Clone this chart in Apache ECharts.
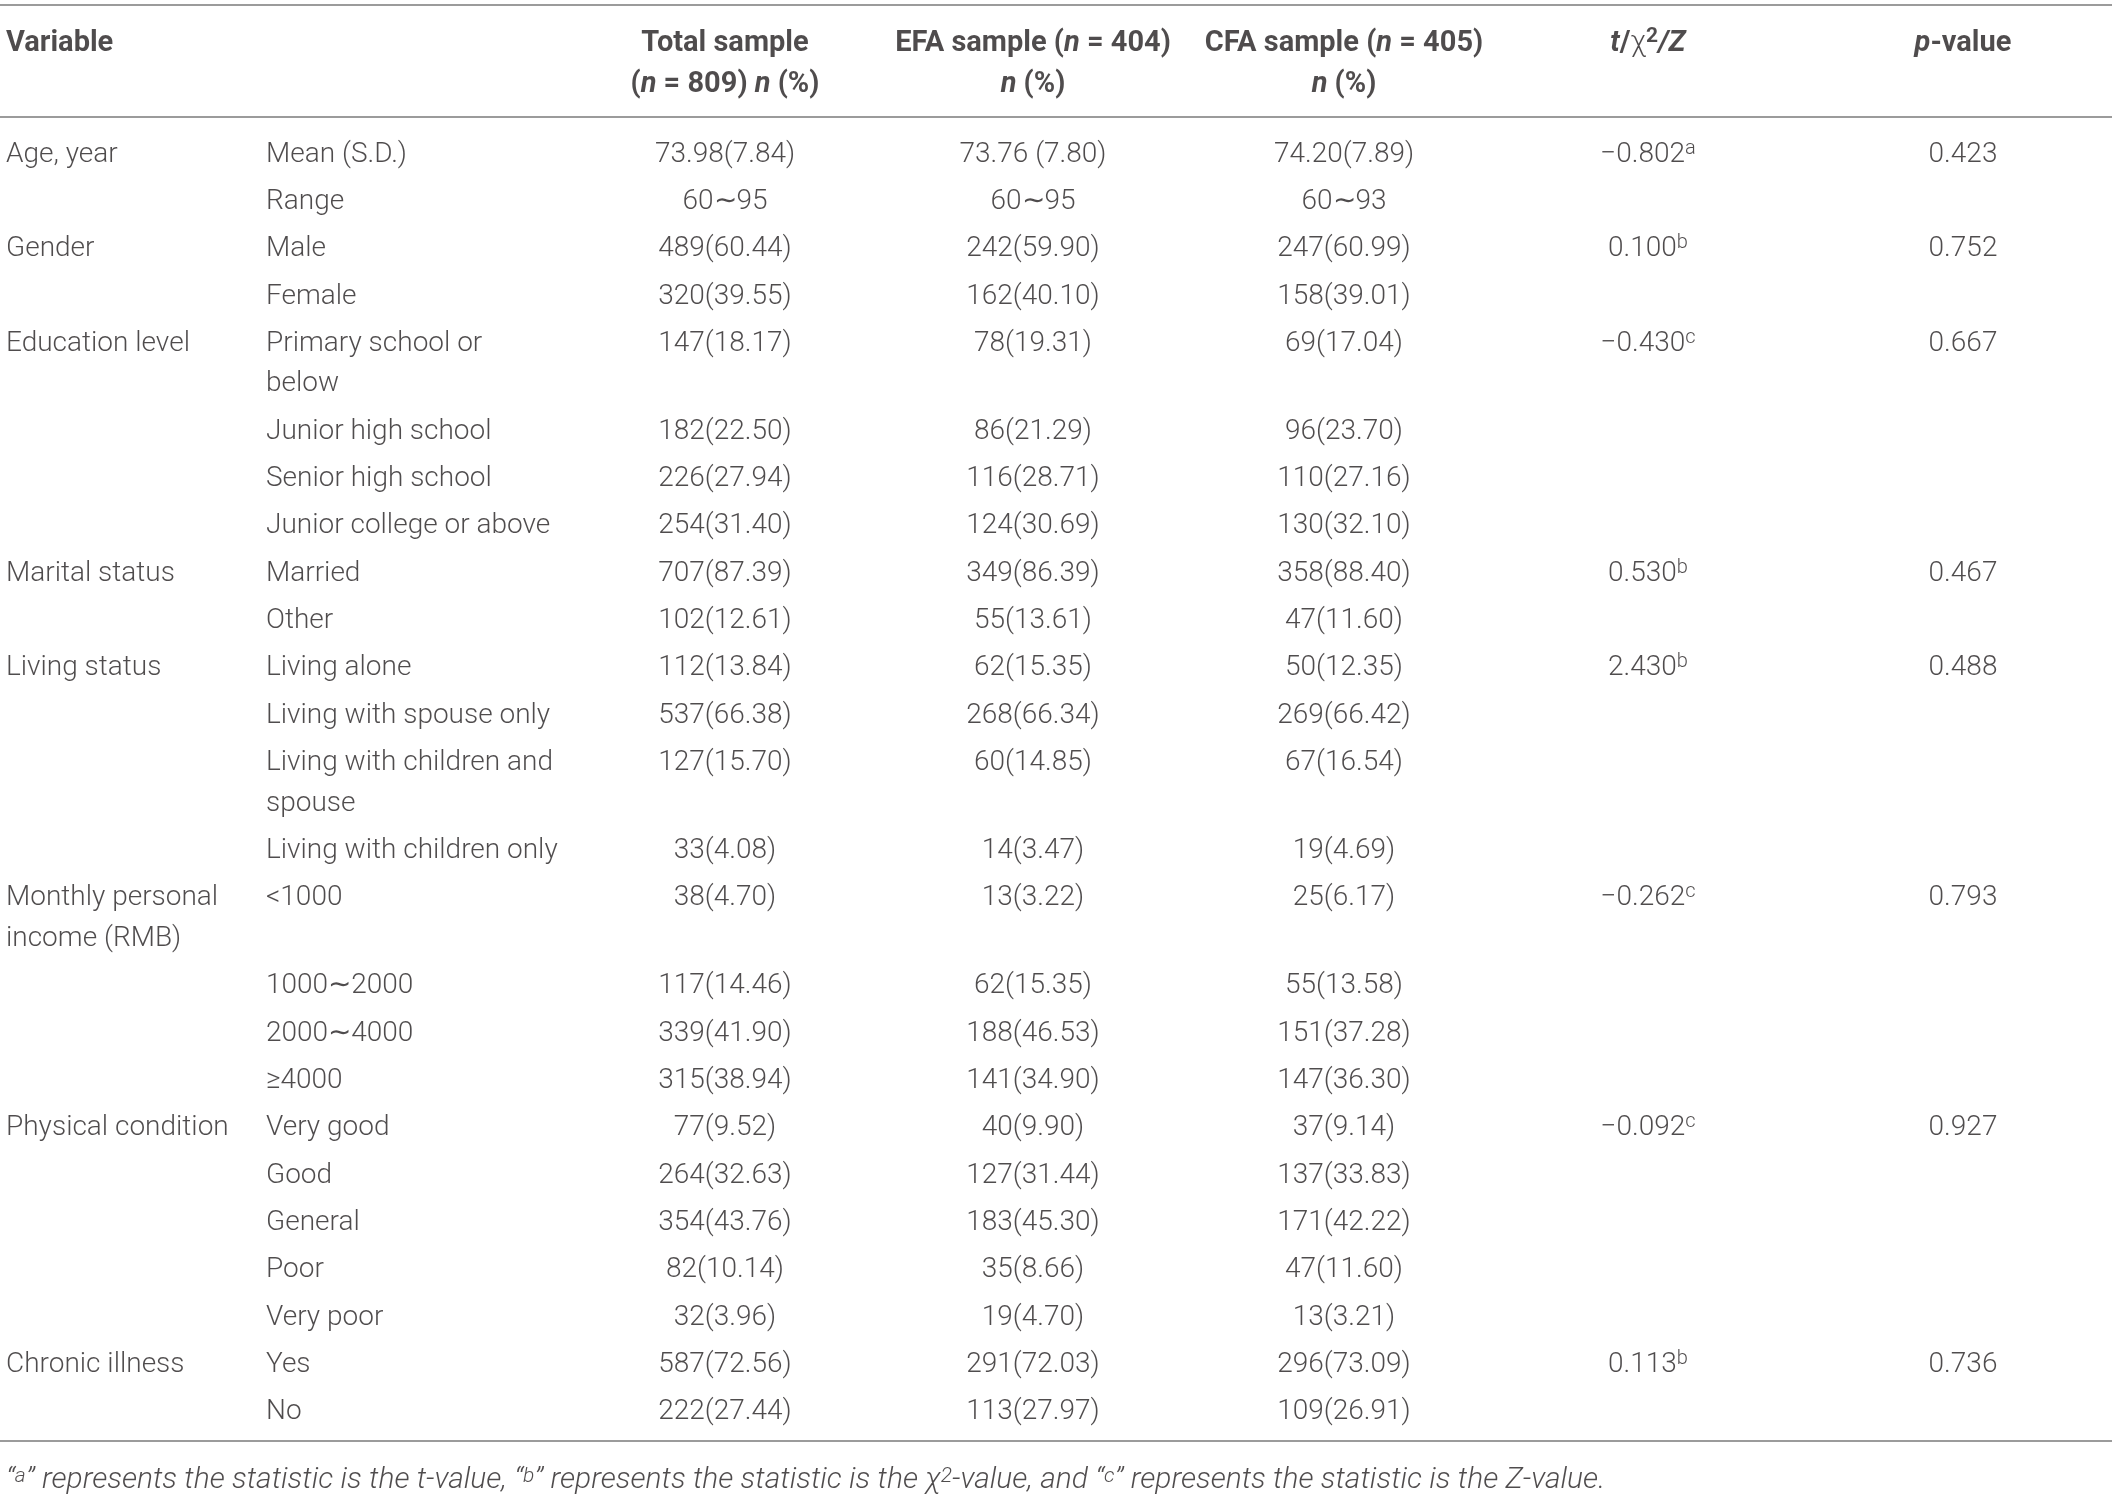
<!DOCTYPE html>
<html>
<head>
<meta charset="utf-8">
<script src="https://cdn.jsdelivr.net/npm/echarts@6/dist/echarts.min.js"></script>
<style>
  html, body { margin: 0; padding: 0; background: #fff; }
  #container { width: 2118px; height: 1496px; }
</style>
</head>
<body>
<div id="container"></div>
<script>
// table contents
var varNames = ['Age, year', 'Gender', 'Education level', 'Marital status', 'Living status',
  'Monthly personal\nincome (RMB)', 'Physical condition', 'Chronic illness'];
var subCats = [
  ['Mean (S.D.)', 'Range'],
  ['Male', 'Female'],
  ['Primary school or\nbelow', 'Junior high school', 'Senior high school', 'Junior college or above'],
  ['Married', 'Other'],
  ['Living alone', 'Living with spouse only', 'Living with children and\nspouse', 'Living with children only'],
  ['<1000', '1000∼2000', '2000∼4000', '≥4000'],
  ['Very good', 'Good', 'General', 'Poor', 'Very poor'],
  ['Yes', 'No']
];
var totalSample = [
  ['73.98(7.84)', '60∼95'],
  ['489(60.44)', '320(39.55)'],
  ['147(18.17)', '182(22.50)', '226(27.94)', '254(31.40)'],
  ['707(87.39)', '102(12.61)'],
  ['112(13.84)', '537(66.38)', '127(15.70)', '33(4.08)'],
  ['38(4.70)', '117(14.46)', '339(41.90)', '315(38.94)'],
  ['77(9.52)', '264(32.63)', '354(43.76)', '82(10.14)', '32(3.96)'],
  ['587(72.56)', '222(27.44)']
];
var efaSample = [
  ['73.76 (7.80)', '60∼95'],
  ['242(59.90)', '162(40.10)'],
  ['78(19.31)', '86(21.29)', '116(28.71)', '124(30.69)'],
  ['349(86.39)', '55(13.61)'],
  ['62(15.35)', '268(66.34)', '60(14.85)', '14(3.47)'],
  ['13(3.22)', '62(15.35)', '188(46.53)', '141(34.90)'],
  ['40(9.90)', '127(31.44)', '183(45.30)', '35(8.66)', '19(4.70)'],
  ['291(72.03)', '113(27.97)']
];
var cfaSample = [
  ['74.20(7.89)', '60∼93'],
  ['247(60.99)', '158(39.01)'],
  ['69(17.04)', '96(23.70)', '110(27.16)', '130(32.10)'],
  ['358(88.40)', '47(11.60)'],
  ['50(12.35)', '269(66.42)', '67(16.54)', '19(4.69)'],
  ['25(6.17)', '55(13.58)', '151(37.28)', '147(36.30)'],
  ['37(9.14)', '137(33.83)', '171(42.22)', '47(11.60)', '13(3.21)'],
  ['296(73.09)', '109(26.91)']
];
var statValues = ['−0.802', '0.100', '−0.430', '0.530', '2.430', '−0.262', '−0.092', '0.113'];
var statTypes = ['a', 'b', 'c', 'b', 'b', 'c', 'c', 'b'];
var pValues = ['0.423', '0.752', '0.667', '0.467', '0.488', '0.793', '0.927', '0.736'];

var headerLine1 = ['{b|Variable}', '', '{b|Total sample}', '{b|EFA sample (}{bi|n}{b| = 404)}',
  '{b|CFA sample (}{bi|n}{b| = 405)}', '{bi|t}{b|/}{g|χ}{bs|2}{bi|/Z}', '{bi|p}{b|-value}'];
var headerLine2 = ['', '', '{b|(}{bi|n}{b| = 809) }{bi|n}{b| (%)}', '{bi|n}{b| (%)}', '{bi|n}{b| (%)}', '', ''];
var footnote = '“{s|a}” represents the statistic is the t-value, “{s|b}” represents the statistic is the ' +
  'χ{s|2}-value, and “{s|c}” represents the statistic is the Z-value.';

// layout
var colX = [6, 266, 725, 1033, 1344, 1648, 1963];
var colAlign = ['left', 'left', 'center', 'center', 'center', 'center', 'center'];
var WRAP = 0.855;         // second line of a wrapped cell, in row units
var ruleY = [-3.157, -0.792, 27.17];
var headY = [-2.344, -1.478];
var footY = 28.01;
var FONT = 'Roboto';
var INK = '#231f20';
var FS = 28;

window.onload = function () {
  var chartDom = document.getElementById('container');
  var myChart = echarts.init(chartDom);

  var cols = [[], [], [], [], [], [], []];
  function pushLines(c, y, text) {
    text.split('\n').forEach(function (t, k) {
      cols[c].push([colX[c], y + k * WRAP, t]);
    });
  }
  function nLines(t) { return t.split('\n').length; }

  var y = 0;
  varNames.forEach(function (v, gi) {
    pushLines(0, y, v);
    cols[5].push([colX[5], y, '{v|' + statValues[gi] + '}{s|' + statTypes[gi] + '}']);
    pushLines(6, y, pValues[gi]);
    subCats[gi].forEach(function (sc, si) {
      pushLines(1, y, sc);
      pushLines(2, y, totalSample[gi][si]);
      pushLines(3, y, efaSample[gi][si]);
      pushLines(4, y, cfaSample[gi][si]);
      var n = Math.max(nLines(sc), si === 0 ? nLines(v) : 1);
      y += 1 + (n - 1) * WRAP;
    });
  });

  var head = [];
  colX.forEach(function (x, c) {
    if (headerLine1[c]) head.push({ value: [x, headY[0], headerLine1[c]], label: { align: colAlign[c] } });
    if (headerLine2[c]) head.push({ value: [x, headY[1], headerLine2[c]], label: { align: colAlign[c] } });
  });

  var baseLabel = {
    show: true,
    position: 'inside',
    verticalAlign: 'middle',
    fontFamily: FONT,
    fontWeight: 300,
    fontSize: FS,
    color: INK,
    formatter: function (p) { return p.value[2]; }
  };

  var series = cols.map(function (data, c) {
    var lab = Object.assign({}, baseLabel, { align: colAlign[c] });
    if (c === 5) {
      lab.rich = {
        v: { fontFamily: FONT, fontWeight: 300, fontSize: FS, color: INK, lineHeight: 32 },
        s: { fontFamily: FONT, fontWeight: 300, fontSize: 20, color: INK, lineHeight: 12, verticalAlign: 'top' }
      };
    }
    return {
      type: 'scatter',
      symbolSize: 0,
      silent: true,
      data: data,
      label: lab
    };
  });

  series.push({
    type: 'scatter',
    symbolSize: 0,
    silent: true,
    data: head,
    label: Object.assign({}, baseLabel, {
      rich: {
        b: { fontFamily: FONT, fontWeight: 'bold', fontSize: 29, color: INK, lineHeight: 34 },
        bi: { fontFamily: FONT, fontWeight: 'bold', fontStyle: 'italic', fontSize: 29, color: INK, lineHeight: 34 },
        g: { fontFamily: FONT, fontWeight: 300, fontSize: 29, color: INK, lineHeight: 34 },
        bs: { fontFamily: FONT, fontWeight: 'bold', fontSize: 21, color: INK, lineHeight: 12, verticalAlign: 'top' }
      }
    }),
    markLine: {
      silent: true,
      symbol: ['none', 'none'],
      label: { show: false },
      lineStyle: { color: '#9b9b9b', width: 2, type: 'solid' },
      data: ruleY.map(function (v) { return { yAxis: v }; })
    }
  });

  series.push({
    type: 'scatter',
    symbolSize: 0,
    silent: true,
    data: [[colX[0], footY, footnote]],
    label: Object.assign({}, baseLabel, {
      align: 'left',
      fontStyle: 'italic',
      fontSize: 30,
      rich: {
        s: { fontFamily: FONT, fontWeight: 300, fontSize: 21, color: INK, lineHeight: 14, verticalAlign: 'top' }
      }
    })
  });

  var option = {
    animation: false,
    backgroundColor: '#ffffff',
    grid: { left: 0, right: 6, top: 0, bottom: 0 },
    xAxis: { type: 'value', min: 0, max: 2112, show: false },
    yAxis: { type: 'value', inverse: true, min: -3.263, max: 28.331, show: false },
    series: series
  };

  option && myChart.setOption(option);
};
</script>
</body>
</html>
